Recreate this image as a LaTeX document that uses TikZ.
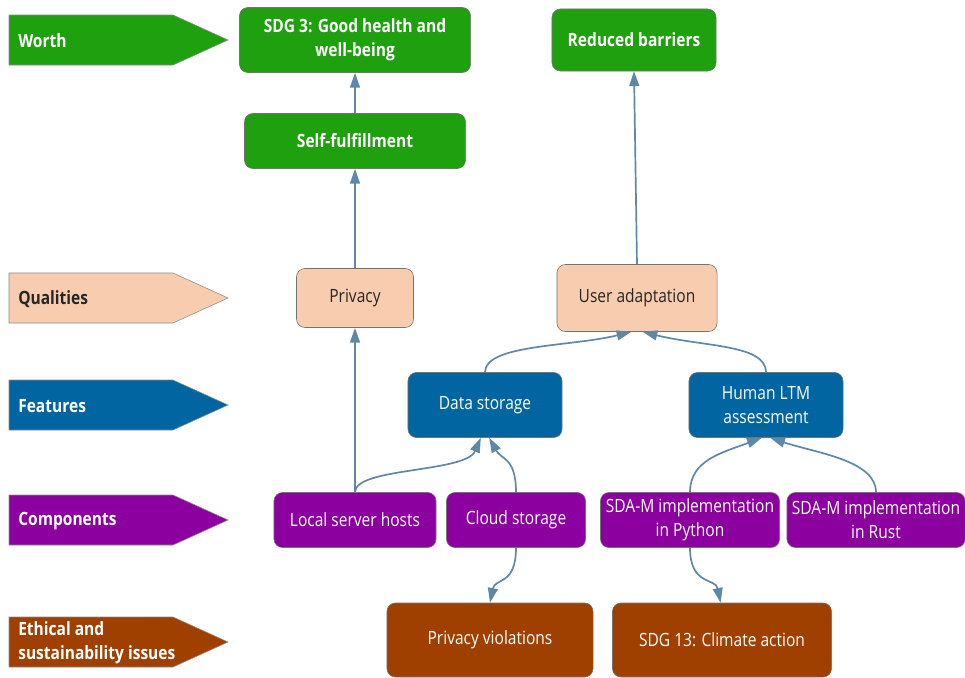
\documentclass[tikz,border=0pt]{standalone}
\usepackage{fontspec}
\setmainfont{Open Sans}[FakeStretch=0.85]
\usetikzlibrary{arrows.meta}

\definecolor{worthgreen}{HTML}{1FA00F}
\definecolor{peach}{HTML}{F8CCAE}
\definecolor{featblue}{HTML}{0065A0}
\definecolor{comppurple}{HTML}{8C00A0}
\definecolor{issuebrown}{HTML}{A04000}
\definecolor{linkblue}{HTML}{5E88A6}

\newcommand{\diagfont}{\fontsize{13}{17}\selectfont}

\tikzstyle{box} = [draw=black!55, rounded corners=6pt, align=center, inner sep=2pt, text=white, font=\diagfont]
\tikzstyle{worth} = [box, fill=worthgreen, font=\diagfont\bfseries]
\tikzstyle{quality} = [box, fill=peach, text=black!85]
\tikzstyle{feature} = [box, fill=featblue]
\tikzstyle{component} = [box, fill=comppurple]
\tikzstyle{issue} = [box, fill=issuebrown]
\tikzstyle{lanetext} = [anchor=west, align=left, inner sep=0pt, font=\diagfont\bfseries]
\tikzstyle{link} = [line width=1.2pt, draw=linkblue, -{Triangle[length=10.5pt,width=7pt]}]

\begin{document}
\begin{tikzpicture}[x=0.025cm, y=-0.025cm]
\useasboundingbox (0,0) rectangle (965,677);

% --- Levels ---
\foreach \y/\col/\tcol/\name/\lbl in {40/worthgreen/white/worth/Worth,
    298/peach/black!85/qual/Qualities,
    405/featblue/white/feat/Features,
    520/comppurple/white/comp/Components,
    642/issuebrown/white/issue/{Ethical and\\sustainability issues}} {
  \draw[fill=\col, draw=black!45] (9,\y-25) -- (173,\y-25) -- (228,\y) -- (173,\y+25) -- (9,\y+25) -- cycle;
  \node[lanetext, text=\tcol] (lane-\name) at (18,\y+1) {\lbl};
}

% worth
\node[worth, minimum width=5.775cm, minimum height=1.625cm] (sdg3) at (355,40) {SDG 3: Good health and\\well-being};
\node[worth, minimum width=4.1cm, minimum height=1.55cm] (barriers) at (634,40) {Reduced barriers};
\node[worth, minimum width=5.525cm, minimum height=1.375cm] (selfful) at (355,141) {Self-fulfillment};

% qualities
\node[quality, minimum width=2.925cm, minimum height=1.475cm] (privacy) at (355,298) {Privacy};
\node[quality, minimum width=4cm, minimum height=1.675cm] (useradapt) at (637,298) {User adaptation};

% features
\node[feature, minimum width=3.85cm, minimum height=1.625cm] (datastore) at (485,405) {Data storage};
\node[feature, minimum width=3.85cm, minimum height=1.625cm] (ltm) at (766,405) {Human LTM\\assessment};

% components
\node[component, minimum width=4.05cm, minimum height=1.375cm] (localhosts) at (355,520) {Local server hosts};
\node[component, minimum width=3.475cm, minimum height=1.375cm] (cloud) at (516,520) {Cloud storage};
\node[component, minimum width=4.475cm, minimum height=1.375cm] (python) at (690,520) {SDA-M implementation\\in Python};
\node[component, minimum width=4.45cm, minimum height=1.375cm] (rust) at (876,520) {SDA-M implementation\\in Rust};

% issues
\node[issue, minimum width=5.15cm, minimum height=1.85cm] (privviol) at (490,640) {Privacy violations};
\node[issue, minimum width=5.475cm, minimum height=1.85cm] (sdg13) at (722,640) {SDG 13: Climate action};

% connections
\draw[link] (selfful.north) -- (sdg3.south);
\draw[link] (privacy.north) -- (selfful.south);
\draw[link] (useradapt.north) -- (barriers.south);
\draw[link] (localhosts.north) -- (privacy.south);
\draw[link] (localhosts.north) .. controls +(0,-25) and +(-15,35) .. ([xshift=-3pt]datastore.south);
\draw[link] (cloud.north) .. controls +(0,-35) and +(12,22) .. ([xshift=3pt]datastore.south);
\draw[link] (datastore.north) .. controls +(0,-28) and +(-60,15) .. ([xshift=-4pt]useradapt.south);
\draw[link] (ltm.north) .. controls +(0,-28) and +(60,15) .. ([xshift=4pt]useradapt.south);
\draw[link] (python.north) .. controls +(0,-32) and +(-40,15) .. ([xshift=-3pt]ltm.south);
\draw[link] (rust.north) .. controls +(0,-32) and +(45,15) .. ([xshift=3pt]ltm.south);
\draw[link] (cloud.south) .. controls +(0,38) and +(5,-25) .. (privviol.north);
\draw[link] (python.south) .. controls +(0,38) and +(-5,-25) .. ([xshift=-1pt]sdg13.north);

\end{tikzpicture}
\end{document}
